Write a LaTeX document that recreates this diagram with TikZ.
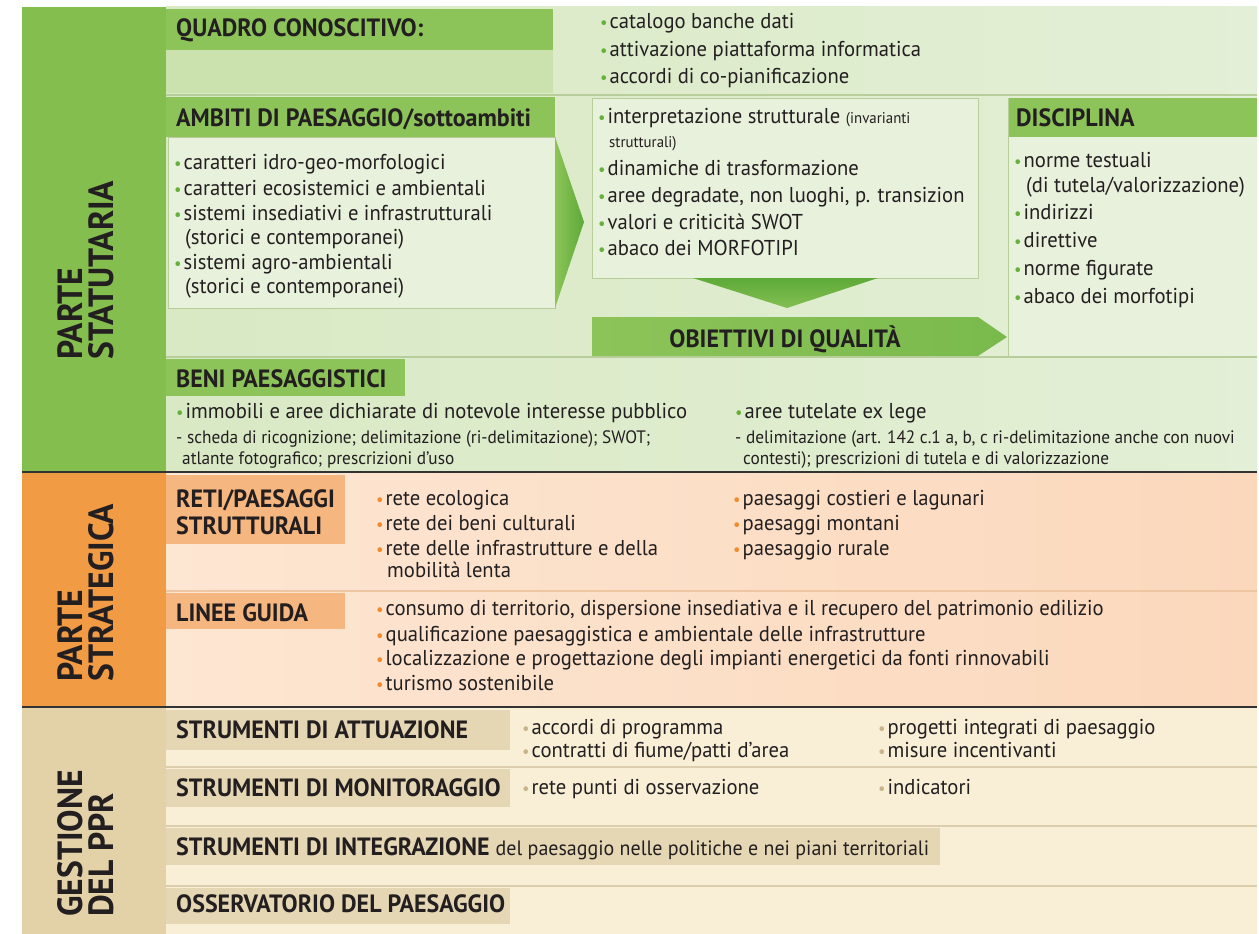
\documentclass[tikz,border=0pt]{standalone}
\usepackage{fontspec}
\setmainfont[FakeStretch=0.96]{PT Sans}
\definecolor{gband}{HTML}{84BE4E}
\definecolor{ghead}{HTML}{8DC459}
\definecolor{gbgl}{HTML}{D9E9C4}
\definecolor{gbgr}{HTML}{E3EFD6}
\definecolor{gstrip}{HTML}{CCE2AE}
\definecolor{gbox}{HTML}{E8F1DC}
\definecolor{gline}{HTML}{B7CD9A}
\definecolor{gbul}{HTML}{66B03C}
\definecolor{gdark}{HTML}{5DAA38}
\definecolor{oband}{HTML}{F29B45}
\definecolor{ohead}{HTML}{F6B680}
\definecolor{obgl}{HTML}{FDE6D2}
\definecolor{obgr}{HTML}{FBD8BC}
\definecolor{oline}{HTML}{EFC6A2}
\definecolor{obul}{HTML}{F08A2A}
\definecolor{tband}{HTML}{E3D1A8}
\definecolor{thead}{HTML}{E6D7B4}
\definecolor{tbg}{HTML}{F8EFD6}
\definecolor{tline}{HTML}{DCCEAC}
\definecolor{tbul}{HTML}{C8B48C}
\definecolor{ink}{HTML}{231F20}
\definecolor{sepc}{HTML}{333333}
\newcommand\bl[1]{\textcolor{#1}{\scalebox{0.8}{•}}\hspace{2pt}}
\tikzset{
  tx/.style={anchor=base west, inner sep=0pt, text=ink, font=\fontsize{21.5}{24}\selectfont},
  sm/.style={tx, font=\fontsize{18}{20}\selectfont},
  hd/.style={tx, font=\bfseries\fontsize{25}{27}\selectfont},
  lb/.style={rotate=90, anchor=west, align=left, inner sep=0pt, text=ink, font=\bfseries\fontsize{35}{31}\selectfont},
  thin sep/.style={line width=1.5pt},
  dark sep/.style={sepc, line width=2.5pt},
}
\begin{document}
\begin{tikzpicture}[x=1pt,y=-1pt]
\useasboundingbox (0,0) rectangle (1259,934);
% ---------- section backgrounds ----------
\shade[left color=gbgl, right color=gbgr] (166,7) rectangle (1257,472);
\shade[left color=obgl, right color=obgr] (166,472) rectangle (1257,707);
\fill[tbg] (166,707) rectangle (1257,934);
\fill[gband] (22,7) rectangle (166,472);
\fill[oband] (22,472) rectangle (166,707);
\fill[tband] (22,707) rectangle (166,934);
% ---------- green section ----------
\fill[ghead] (166,9) rectangle (553,50);
\fill[gstrip] (166,50) rectangle (553,93);
\draw[gline, thin sep] (166,95) -- (1257,95);
\fill[ghead] (166,97) rectangle (555,137);
\fill[gbox, draw=gline] (168,137) rectangle (555,308);
\shade[left color=ghead, right color=gdark] (555,137) -- (584,222) -- (555,308) -- cycle;
\fill[gbox, draw=gline] (592,98) rectangle (978,278);
\shade[top color=gdark, bottom color=ghead!80!gdark] (693,278) -- (878,278) -- (787,308) -- cycle;
\shade[left color=ghead, right color=ghead!60!gdark] (592,317) -- (978,317) -- (1007,337) -- (978,356) -- (592,356) -- cycle;
\fill[ghead] (1008,98) rectangle (1257,137);
\fill[gbox] (1008,137) rectangle (1257,356);
\draw[gline] (1008,98) -- (1008,356);
\draw[gline, thin sep] (166,357) -- (1257,357);
\fill[ghead] (166,359) rectangle (405,396);
% ---------- orange section ----------
\fill[ohead] (166,475) rectangle (345,544);
\draw[oline, thin sep] (166,591) -- (1257,591);
\fill[ohead] (166,593) rectangle (345,629);
% ---------- tan section ----------
\fill[thead] (166,710) rectangle (510,750);
\draw[tline, thin sep] (166,767) -- (1257,767);
\fill[thead] (166,769) rectangle (510,807);
\draw[tline, thin sep] (166,826) -- (1257,826);
\fill[thead] (166,828) rectangle (940,865);
\draw[tline, thin sep] (166,886) -- (1257,886);
\fill[thead] (166,888) rectangle (510,924);
% ---------- dark separators ----------
\draw[dark sep] (22,472) -- (1257,472);
\draw[dark sep] (22,707) -- (1257,707);
% ---------- left labels ----------
\node[lb] (lstat) at (86,360) {PARTE\\STATUTARIA};
\node[lb] (lstrat) at (86,682) {PARTE\\STRATEGICA};
\node[lb] (lgest) at (86,917) {GESTIONE\\DEL PPR};
% ---------- quadro conoscitivo ----------
\node[hd] (hquad) at (176,37) {QUADRO CONOSCITIVO:};
\node[tx] (q1) at (600,29) {\bl{gbul}catalogo banche dati};
\node[tx] (q2) at (600,57) {\bl{gbul}attivazione piattaforma informatica};
\node[tx] (q3) at (600,84) {\bl{gbul}accordi di co-pianificazione};
% ---------- ambiti ----------
\node[hd] (hamb) at (176,126) {AMBITI DI PAESAGGIO/sottoambiti};
\node[tx] (a1) at (174,169) {\bl{gbul}caratteri idro-geo-morfologici};
\node[tx] (a2) at (174,195) {\bl{gbul}caratteri ecosistemici e ambientali};
\node[tx] (a3) at (174,220) {\bl{gbul}sistemi insediativi e infrastrutturali};
\node[tx] (a4) at (185,244) {(storici e contemporanei)};
\node[tx] (a5) at (174,269) {\bl{gbul}sistemi agro-ambientali};
\node[tx] (a6) at (185,293) {(storici e contemporanei)};
% ---------- middle list ----------
\node[tx] (m1) at (598,124) {\bl{gbul}interpretazione strutturale {\fontsize{15.5}{17}\selectfont(invarianti}};
\node[sm, font=\fontsize{15.5}{17}\selectfont] (m2) at (609,147) {strutturali)};
\node[tx] (m3) at (598,175) {\bl{gbul}dinamiche di trasformazione};
\node[tx] (m4) at (598,202) {\bl{gbul}aree degradate, non luoghi, p. transizion};
\node[tx] (m5) at (598,229) {\bl{gbul}valori e criticità SWOT};
\node[tx] (m6) at (598,255) {\bl{gbul}abaco dei MORFOTIPI};
\node[hd, anchor=base] (hobi) at (785,347) {OBIETTIVI DI QUALITÀ};
% ---------- disciplina ----------
\node[hd] (hdis) at (1016,126) {DISCIPLINA};
\node[tx] (d1) at (1014,167) {\bl{gbul}norme testuali};
\node[tx] (d2) at (1026,192) {(di tutela/valorizzazione)};
\node[tx] (d3) at (1014,219) {\bl{gbul}indirizzi};
\node[tx] (d4) at (1014,247) {\bl{gbul}direttive};
\node[tx] (d5) at (1014,275) {\bl{gbul}norme figurate};
\node[tx] (d6) at (1014,303) {\bl{gbul}abaco dei morfotipi};
% ---------- beni paesaggistici ----------
\node[hd] (hbeni) at (176,387) {BENI PAESAGGISTICI};
\node[tx] (b1) at (176,418) {\bl{gbul}immobili e aree dichiarate di notevole interesse pubblico};
\node[sm] (b2) at (176,443) {- scheda di ricognizione; delimitazione (ri-delimitazione); SWOT;};
\node[sm] (b3) at (182,464) {atlante fotografico; prescrizioni d'uso};
\node[tx] (b4) at (735,418) {\bl{gbul}aree tutelate ex lege};
\node[sm] (b5) at (735,443) {- delimitazione (art. 142 c.1 a, b, c ri-delimitazione anche con nuovi};
\node[sm] (b6) at (743,464) {contesti); prescrizioni di tutela e di valorizzazione};
% ---------- reti / paesaggi strutturali ----------
\node[hd] (hreti1) at (176,507) {RETI/PAESAGGI};
\node[hd] (hreti2) at (176,534) {STRUTTURALI};
\node[tx] (r1) at (376,505) {\bl{obul}rete ecologica};
\node[tx] (r2) at (376,530) {\bl{obul}rete dei beni culturali};
\node[tx] (r3) at (376,555) {\bl{obul}rete delle infrastrutture e della};
\node[tx] (r4) at (387,577) {mobilità lenta};
\node[tx] (r5) at (733,505) {\bl{obul}paesaggi costieri e lagunari};
\node[tx] (r6) at (733,530) {\bl{obul}paesaggi montani};
\node[tx] (r7) at (733,555) {\bl{obul}paesaggio rurale};
% ---------- linee guida ----------
\node[hd] (hlin) at (176,621) {LINEE GUIDA};
\node[tx] (g1) at (376,615) {\bl{obul}consumo di territorio, dispersione insediativa e il recupero del patrimonio edilizio};
\node[tx] (g2) at (376,641) {\bl{obul}qualificazione paesaggistica e ambientale delle infrastrutture};
\node[tx] (g3) at (376,665) {\bl{obul}localizzazione e progettazione degli impianti energetici da fonti rinnovabili};
\node[tx] (g4) at (376,690) {\bl{obul}turismo sostenibile};
% ---------- gestione ----------
\node[hd] (hatt) at (176,738) {STRUMENTI DI ATTUAZIONE};
\node[tx] (s1) at (522,734) {\bl{tbul}accordi di programma};
\node[tx] (s2) at (522,757) {\bl{tbul}contratti di fiume/patti d'area};
\node[tx] (s3) at (878,734) {\bl{tbul}progetti integrati di paesaggio};
\node[tx] (s4) at (878,757) {\bl{tbul}misure incentivanti};
\node[hd] (hmon) at (176,796) {STRUMENTI DI MONITORAGGIO};
\node[tx] (s5) at (522,794) {\bl{tbul}rete punti di osservazione};
\node[tx] (s6) at (878,794) {\bl{tbul}indicatori};
\node[hd] (hint) at (176,855) {STRUMENTI DI INTEGRAZIONE {\mdseries\fontsize{20.8}{24}\selectfont del paesaggio nelle politiche e nei piani territoriali}};
\node[hd] (hoss) at (176,912) {OSSERVATORIO DEL PAESAGGIO};
\end{tikzpicture}
\end{document}
